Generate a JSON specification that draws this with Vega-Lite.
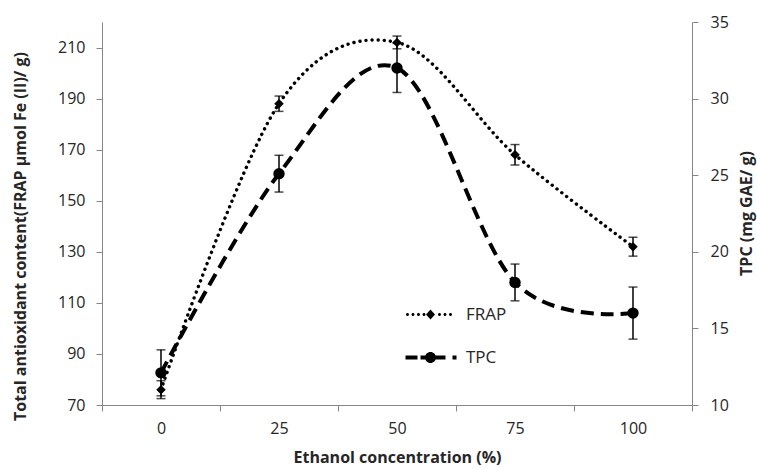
{
  "$schema": "https://vega.github.io/schema/vega-lite/v6.json",
  "width": 590,
  "height": 383,
  "autosize": {"type": "none"},
  "padding": {"left": 102, "top": 22, "right": 65, "bottom": 64},
  "background": "white",
  "data": {"values": [
    {"series": "FRAP", "conc": 0, "v": 76, "err": 3.5},
    {"series": "FRAP", "conc": 25, "v": 188, "err": 3},
    {"series": "FRAP", "conc": 50, "v": 212, "err": 2.5},
    {"series": "FRAP", "conc": 75, "v": 168, "err": 4},
    {"series": "FRAP", "conc": 100, "v": 132, "err": 3.7},
    {"series": "TPC", "conc": 0, "v": 12.1, "err": 1.5},
    {"series": "TPC", "conc": 25, "v": 25.1, "err": 1.2},
    {"series": "TPC", "conc": 50, "v": 32, "err": 1.6},
    {"series": "TPC", "conc": 75, "v": 18, "err": 1.2},
    {"series": "TPC", "conc": 100, "v": 16, "err": 1.7}
  ]},
  "layer": [
    {
      "transform": [{"filter": "datum.series === 'FRAP'"}],
      "encoding": {
        "y": {"field": "v", "type": "quantitative",
          "scale": {"domain": [70, 220], "nice": false, "zero": false},
          "axis": {"title": "Total antioxidant content(FRAP µmol Fe (II)/ g)", "values": [70, 90, 110, 130, 150, 170, 190, 210], "labelPadding": 11, "titleX": -82, "titleY": 214, "titleBaseline": "middle", "titleAngle": 270}}
      },
      "layer": [
        {"mark": {"type": "line", "interpolate": "cardinal", "strokeDash": [0.1, 6], "strokeCap": "round", "strokeWidth": 3.4, "color": "black"},
         "encoding": {"x": {"field": "conc", "type": "ordinal", "bandPosition": 0.5, "scale": {"type": "band", "domain": [0, 25, 50, 75, 100], "paddingInner": 0, "paddingOuter": 0}, "axis": {"title": "Ethanol concentration (%)"}}}},
        {"mark": {"type": "errorbar", "ticks": {"size": 9, "thickness": 1.5, "color": "black"}, "rule": {"strokeWidth": 1.5, "color": "black"}},
         "encoding": {"x": {"field": "conc", "type": "ordinal", "bandPosition": 0.5, "scale": {"type": "band", "domain": [0, 25, 50, 75, 100], "paddingInner": 0, "paddingOuter": 0}, "axis": {"title": "Ethanol concentration (%)"}}, "yError": {"field": "err"}}},
        {"mark": {"type": "point", "shape": "diamond", "filled": true, "size": 90, "color": "black", "opacity": 1},
         "encoding": {"x": {"field": "conc", "type": "ordinal", "bandPosition": 0.5, "scale": {"type": "band", "domain": [0, 25, 50, 75, 100], "paddingInner": 0, "paddingOuter": 0}, "axis": {"title": "Ethanol concentration (%)"}}}},
        {"data": {"values": [{"edge": "top"}]}, "mark": {"type": "rule", "color": "#1a1a1a", "strokeWidth": 1.5},
         "encoding": {"y": {"datum": 220}}}
      ]
    },
    {
      "transform": [{"filter": "datum.series === 'TPC'"}],
      "encoding": {
        "y": {"field": "v", "type": "quantitative",
          "scale": {"domain": [10, 35], "nice": false, "zero": false},
          "axis": {"title": "TPC (mg GAE/ g)", "orient": "right", "values": [10, 15, 20, 25, 30, 35], "labelPadding": 12, "titleX": 54, "titleY": 191, "titleBaseline": "middle", "titleAngle": 270}}
      },
      "layer": [
        {"mark": {"type": "line", "interpolate": "cardinal", "strokeDash": [13, 7], "strokeCap": "butt", "strokeWidth": 4, "color": "black"},
         "encoding": {"x": {"field": "conc", "type": "ordinal", "bandPosition": 0.5, "scale": {"type": "band", "domain": [0, 25, 50, 75, 100], "paddingInner": 0, "paddingOuter": 0}, "axis": {"title": "Ethanol concentration (%)"}}}},
        {"mark": {"type": "errorbar", "ticks": {"size": 9, "thickness": 1.5, "color": "black"}, "rule": {"strokeWidth": 1.5, "color": "black"}},
         "encoding": {"x": {"field": "conc", "type": "ordinal", "bandPosition": 0.5, "scale": {"type": "band", "domain": [0, 25, 50, 75, 100], "paddingInner": 0, "paddingOuter": 0}, "axis": {"title": "Ethanol concentration (%)"}}, "yError": {"field": "err"}}},
        {"mark": {"type": "point", "shape": "circle", "filled": true, "size": 130, "color": "black", "opacity": 1},
         "encoding": {"x": {"field": "conc", "type": "ordinal", "bandPosition": 0.5, "scale": {"type": "band", "domain": [0, 25, 50, 75, 100], "paddingInner": 0, "paddingOuter": 0}, "axis": {"title": "Ethanol concentration (%)"}}}}
      ]
    },
    {
      "data": {"values": []},
      "mark": {"type": "point", "filled": true, "color": "black", "opacity": 1},
      "encoding": {
        "shape": {"field": "s", "type": "nominal",
          "scale": {"domain": ["FRAP", "TPC"], "range": [
            "M0.5,0A1.5,1.5 0 1,1 3.5,0A1.5,1.5 0 1,1 0.5,0Z M6,0A1.5,1.5 0 1,1 9,0A1.5,1.5 0 1,1 6,0Z M11.5,0A1.5,1.5 0 1,1 14.5,0A1.5,1.5 0 1,1 11.5,0Z M17,0A1.5,1.5 0 1,1 20,0A1.5,1.5 0 1,1 17,0Z M25,-5L29.5,0L25,5L20.5,0Z M32.5,0A1.5,1.5 0 1,1 35.5,0A1.5,1.5 0 1,1 32.5,0Z M38,0A1.5,1.5 0 1,1 41,0A1.5,1.5 0 1,1 38,0Z M43.5,0A1.5,1.5 0 1,1 46.5,0A1.5,1.5 0 1,1 43.5,0Z",
            "M0,-2H12V2H0Z M15,-2H40V2H15Z M19.5,0A5.5,5.5 0 1,1 30.5,0A5.5,5.5 0 1,1 19.5,0Z M47,-2H51V2H47Z"
          ]},
          "legend": {"title": null, "orient": "none", "legendX": 295, "legendY": 284, "symbolSize": 4, "symbolFillColor": "black", "symbolStrokeColor": "black", "symbolStrokeWidth": 0, "symbolOpacity": 1, "labelOffset": 52, "labelFontSize": 17, "labelColor": "#262626", "labelFont": "Open Sans", "rowPadding": 25}}
      }
    }
  ],
  "resolve": {"scale": {"y": "independent"}},
  "config": {
    "font": "Open Sans",
    "view": {"stroke": null},
    "axis": {"grid": false, "domainColor": "#868686", "tickColor": "#868686", "tickSize": 6, "labelFontSize": 16, "labelColor": "#262626", "titleFontSize": 16, "titleFontWeight": "bold", "titleColor": "#262626", "labelFont": "Open Sans", "titleFont": "Open Sans"},
    "axisX": {"tickBand": "extent", "labelAngle": 0, "labelPadding": 9, "titlePadding": 13}
  }
}
